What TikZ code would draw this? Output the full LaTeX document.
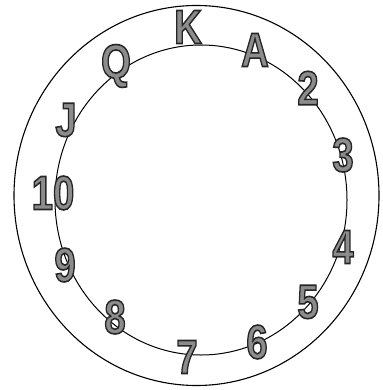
\documentclass[tikz,border=0pt]{standalone}
\usepackage{fontspec}
\setmainfont{Liberation Sans}
\usepackage{graphicx}

\tikzset{
  card/.style={font=\fontsize{48}{48}\selectfont\bfseries, inner sep=0pt},
}
% outlined grey letters: fill and stroke (text render mode 2)
\newcommand{\cardtxt}[1]{\scalebox{0.8}[1]{\special{pdf:literal direct 2 Tr 1.6 w 0.55 g 0.15 G}#1\special{pdf:literal direct 0 Tr 0 g 0 G}}}

\begin{document}
\begin{tikzpicture}[x=1pt,y=-1pt]

	\useasboundingbox (0,0) rectangle (382,390);

	\draw[line width=1.1pt] (196.5,195.5) ellipse [x radius=182.5, y radius=190];
	\draw[line width=1pt] (201,200) ellipse [x radius=146, y radius=155];

	\node[card] (k) at (188,27) {\cardtxt{K}};
	\node[card] (a) at (255,50) {\cardtxt{A}};
	\node[card] (two) at (308,88) {\cardtxt{2}};
	\node[card] (three) at (343,155) {\cardtxt{3}};
	\node[card] (four) at (343,247) {\cardtxt{4}};
	\node[card] (five) at (308,302) {\cardtxt{5}};
	\node[card] (six) at (257,342) {\cardtxt{6}};
	\node[card] (seven) at (187,357) {\cardtxt{7}};
	\node[card] (eight) at (115,317) {\cardtxt{8}};
	\node[card] (nine) at (65,265) {\cardtxt{9}};
	\node[card] (ten) at (53,193) {\cardtxt{10}};
	\node[card] (jack) at (66,120) {\cardtxt{J}};
	\node[card] (queen) at (116,66) {\cardtxt{Q}};

\end{tikzpicture}
\end{document}
